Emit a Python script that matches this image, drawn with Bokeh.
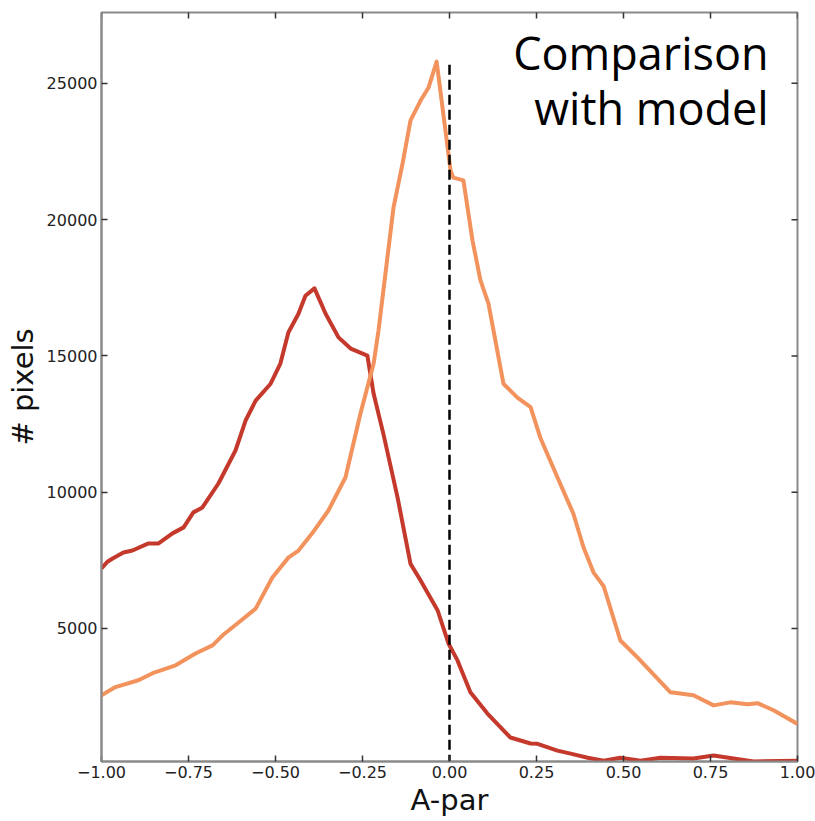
import math
from bokeh.plotting import figure
from bokeh.models import Range1d, FixedTicker, Label
from bokeh.embed import file_html
from bokeh.resources import INLINE

# ---- data ----
red_x = [-1.000, -0.983, -0.968, -0.937, -0.911, -0.865, -0.836, -0.796, -0.764, -0.736,
         -0.710, -0.664, -0.615, -0.586, -0.557, -0.514, -0.486, -0.463, -0.434, -0.414,
         -0.388, -0.356, -0.319, -0.284, -0.236, -0.218, -0.190, -0.149, -0.112, -0.083,
         -0.034, -0.003, 0.023, 0.060, 0.109, 0.175, 0.233, 0.253, 0.310, 0.348,
         0.397, 0.443, 0.491, 0.549, 0.606, 0.701, 0.759, 0.816, 0.874, 1.000]
red_y = [7200, 7450, 7570, 7790, 7860, 8120, 8120, 8490, 8710, 9260,
         9440, 10320, 11530, 12630, 13360, 13980, 14720, 15860, 16550, 17210,
         17480, 16550, 15680, 15270, 15010, 13610, 12140, 9790, 7370, 6760,
         5660, 4450, 3830, 2660, 1880, 1000, 780, 770, 520, 410,
         260, 150, 260, 150, 260, 230, 340, 230, 120, 150]

orange_x = [-1.000, -0.960, -0.894, -0.853, -0.787, -0.730, -0.681, -0.652, -0.606, -0.557,
            -0.509, -0.463, -0.434, -0.394, -0.348, -0.299, -0.256, -0.218, -0.204, -0.161,
            -0.135, -0.112, -0.083, -0.060, -0.037, 0.003, 0.011, 0.040, 0.066, 0.089,
            0.112, 0.155, 0.195, 0.233, 0.261, 0.310, 0.356, 0.385, 0.414, 0.443,
            0.491, 0.540, 0.635, 0.701, 0.759, 0.807, 0.856, 0.885, 0.931, 1.000]
orange_y = [2550, 2850, 3100, 3360, 3650, 4080, 4380, 4750, 5220, 5730,
            6870, 7600, 7860, 8500, 9330, 10540, 12880, 14720, 15930, 20440,
            22050, 23640, 24370, 24850, 25800, 21800, 21540, 21440, 19240, 17770,
            16920, 13980, 13470, 13120, 12000, 10550, 9210, 7980, 7050, 6550,
            4560, 3940, 2660, 2550, 2180, 2290, 2220, 2260, 2000, 1500]

ref_x = 0.0
ref_top = 25850
x_min, x_max = -1.0, 1.0
y_min, y_max = 120, 27600
x_ticks = [-1.0, -0.75, -0.5, -0.25, 0.0, 0.25, 0.5, 0.75, 1.0]
x_tick_labels = ["\u22121.00", "\u22120.75", "\u22120.50", "\u22120.25", "0.00",
                 "0.25", "0.50", "0.75", "1.00"]
y_ticks = [5000, 10000, 15000, 20000, 25000]
title_lines = ["Comparison", "with model"]

RED = "#c4392c"
ORANGE = "#f2925c"
AXIS_GRAY = "#8a8a8a"
TICK = "#333333"

p = figure(width=815, height=821, output_backend="svg", toolbar_location=None,
           x_range=Range1d(x_min, x_max), y_range=Range1d(y_min, y_max),
           min_border_left=101, min_border_right=18, min_border_top=12, min_border_bottom=60)
p.grid.visible = False
p.outline_line_color = AXIS_GRAY
p.outline_line_width = 2
p.background_fill_color = "white"
p.border_fill_color = "white"

for ax, ticks in ((p.xaxis[0], x_ticks), (p.yaxis[0], y_ticks)):
    ax.ticker = FixedTicker(ticks=ticks)
    ax.major_tick_in = 6
    ax.major_tick_out = 0
    ax.minor_tick_line_color = None
    ax.axis_line_color = AXIS_GRAY
    ax.axis_line_width = 2
    ax.major_tick_line_color = TICK
    ax.major_tick_line_width = 1.5
    ax.major_label_text_font = "DejaVu Sans"
    ax.major_label_text_font_size = "16px"
    ax.major_label_text_color = "#222222"
    ax.axis_label_text_font = "DejaVu Sans"
    ax.axis_label_text_font_style = "normal"
    ax.axis_label_text_color = "#111111"
p.xaxis.major_label_overrides = dict(zip(x_ticks, x_tick_labels))
p.xaxis.major_label_standoff = 4
p.yaxis.major_label_standoff = 4
p.xaxis.axis_label = "A-par"
p.yaxis.axis_label = "# pixels"
p.xaxis.axis_label_text_font_size = "29px"
p.yaxis.axis_label_text_font_size = "29px"
p.xaxis.axis_label_standoff = 2
p.yaxis.axis_label_standoff = 4

# inward ticks on the top and right frame edges (half of each dash is clipped by the frame)
p.scatter(x_ticks, [y_max] * len(x_ticks), marker="dash", size=12, angle=math.pi / 2,
          line_color=TICK, line_width=1.5)
p.scatter([x_max] * len(y_ticks), y_ticks, marker="dash", size=12,
          line_color=TICK, line_width=1.5)

p.line(red_x, red_y, line_color=RED, line_width=4, line_join="round")
p.line(orange_x, orange_y, line_color=ORANGE, line_width=4, line_join="round")
p.segment(x0=[ref_x], y0=[0], x1=[ref_x], y1=[ref_top], line_color="black",
          line_width=2.5, line_dash="10 5")

p.add_layout(Label(x=0.917, y=26150, text=title_lines[0], text_align="right",
                   text_baseline="alphabetic", text_font="Open Sans",
                   text_font_size="45px", text_color="black"))
p.add_layout(Label(x=0.917, y=24130, text=title_lines[1], text_align="right",
                   text_baseline="alphabetic", text_font="Open Sans",
                   text_font_size="45px", text_color="black"))

open("out.html", "w").write(file_html(p, INLINE))
